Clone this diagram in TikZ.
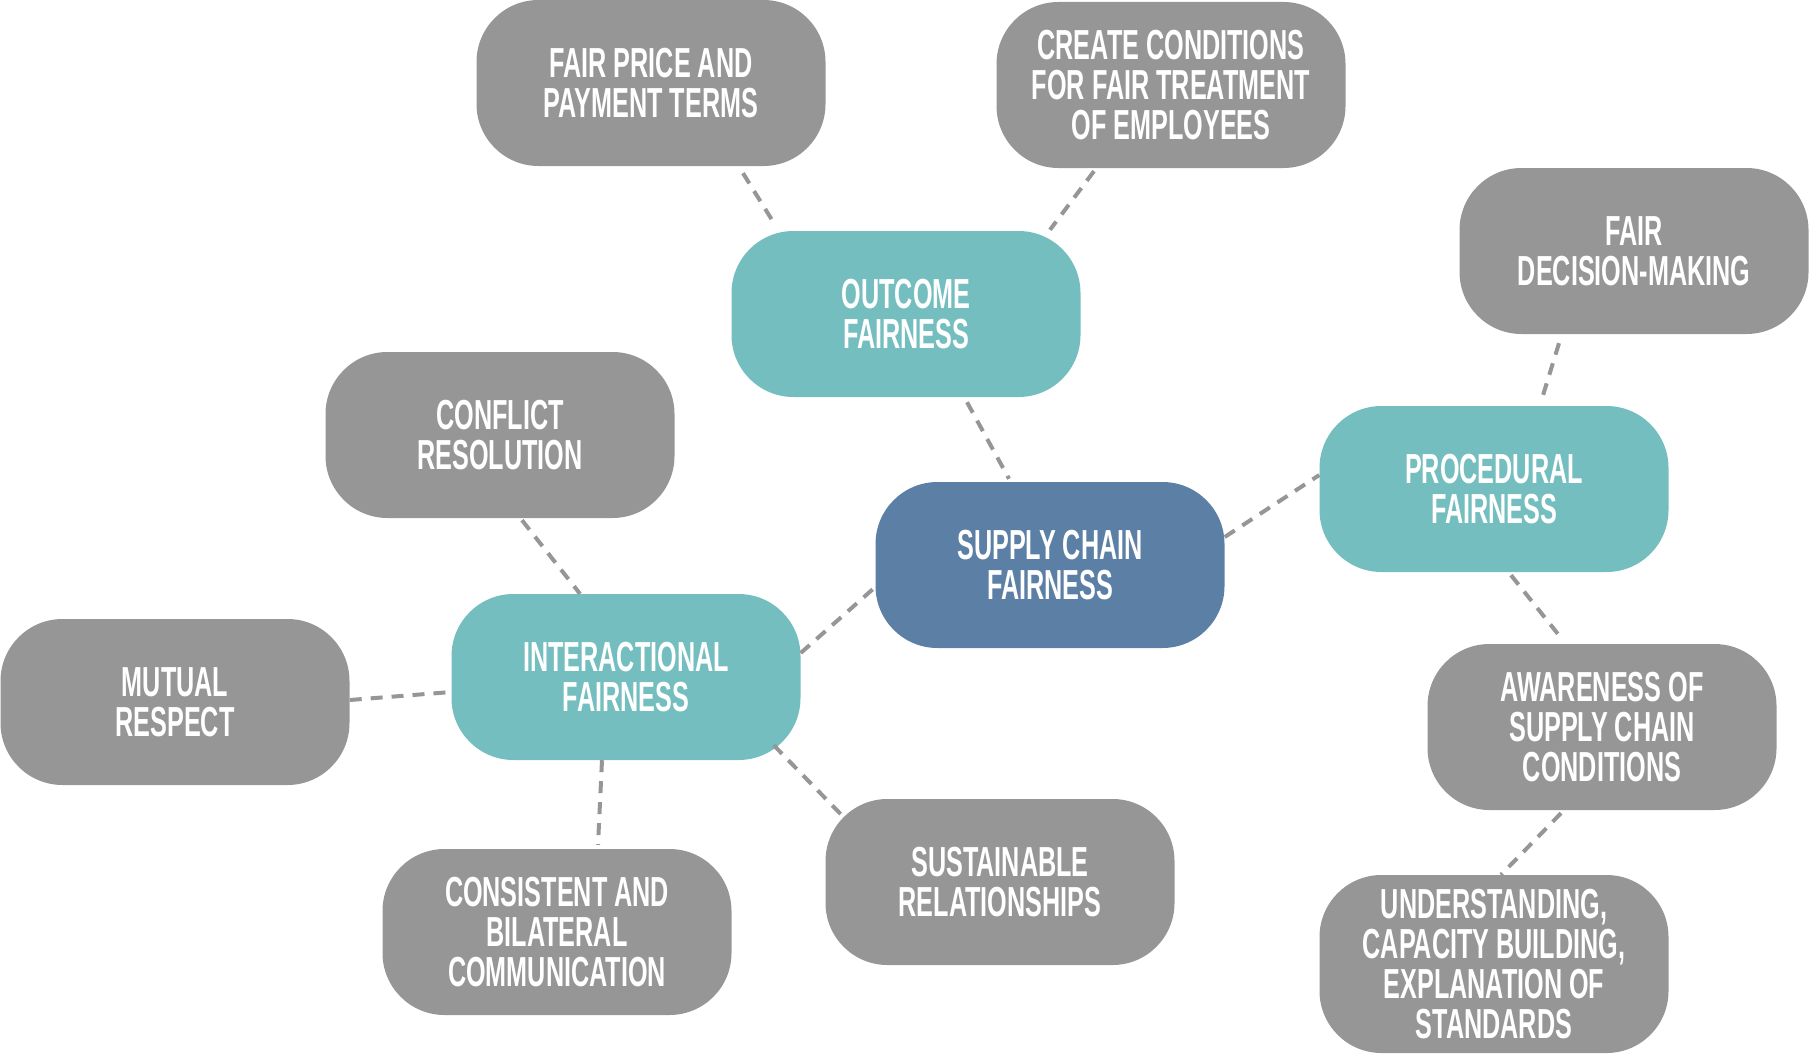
\documentclass[tikz,border=0pt]{standalone}
\usepackage{fontspec}
\newfontfamily\cond[FakeStretch=0.6]{Liberation Sans Bold}
\definecolor{boxgray}{RGB}{150,150,150}
\definecolor{boxteal}{RGB}{117,190,192}
\definecolor{boxblue}{RGB}{92,128,165}
\definecolor{linegray}{RGB}{150,150,150}
\tikzset{
  pill/.style={rectangle, rounded corners=62pt, minimum width=349pt, minimum height=166pt,
    inner sep=0pt, align=center, text=white, font=\cond\fontsize{42}{40}\selectfont,
    execute at begin node={\rule{0pt}{37pt}}},
  leaf/.style={pill, fill=boxgray},
  mid/.style={pill, fill=boxteal},
  hub/.style={pill, fill=boxblue},
  link/.style={draw=linegray, line width=4pt, dash pattern=on 12pt off 9pt}
}
\begin{document}
\begin{tikzpicture}[x=1pt,y=-1pt]
\useasboundingbox (0,0) rectangle (1811,1054);

\node[leaf] (fp) at (651,83) {FAIR PRICE AND\\PAYMENT TERMS};
\node[leaf] (cc) at (1171,85) {CREATE CONDITIONS\\FOR FAIR TREATMENT\\OF EMPLOYEES};
\node[mid]  (oc) at (906,314) {OUTCOME\\FAIRNESS};
\node[leaf] (dm) at (1634,251) {FAIR\\DECISION-MAKING};
\node[mid]  (pf) at (1494,489) {PROCEDURAL\\FAIRNESS};
\node[hub]  (sc) at (1050,565) {SUPPLY CHAIN\\FAIRNESS};
\node[leaf] (cr) at (500,435) {CONFLICT\\RESOLUTION};
\node[mid]  (ia) at (626,677) {INTERACTIONAL\\FAIRNESS};
\node[leaf] (mr) at (175,702) {MUTUAL\\RESPECT};
\node[leaf] (cb) at (557,932) {CONSISTENT AND\\BILATERAL\\COMMUNICATION};
\node[leaf] (sr) at (1000,882) {SUSTAINABLE\\RELATIONSHIPS};
\node[leaf] (aw) at (1602,727) {AWARENESS OF\\SUPPLY CHAIN\\CONDITIONS};
\node[leaf, minimum height=178pt] (un) at (1494,964) {UNDERSTANDING,\\CAPACITY BUILDING,\\EXPLANATION OF\\STANDARDS};

\draw[link] ([xshift=92pt,yshift=-7pt]fp.south) -- ([xshift=-131pt,yshift=6pt]oc.north);
\draw[link] ([xshift=-77pt,yshift=-3pt]cc.south) -- ([xshift=144pt,yshift=1pt]oc.north);
\draw[link] ([xshift=61pt,yshift=-5pt]oc.south) -- ([xshift=-41pt,yshift=3pt]sc.north);
\draw[link] ([xshift=-75pt,yshift=-9pt]dm.south) -- ([xshift=47pt,yshift=4pt]pf.north);
\draw[link] ([yshift=28pt]sc.east) -- ([yshift=14pt]pf.west);
\draw[link] ([xshift=17pt,yshift=-3pt]pf.south) -- ([xshift=-41pt,yshift=6pt]aw.north);
\draw[link] ([xshift=-41pt,yshift=-3pt]aw.south) -- ([xshift=7pt]un.north);
\draw[link] ([xshift=22pt,yshift=-2pt]cr.south) -- ([xshift=-46pt]ia.north);
\draw[link] ([yshift=24pt]ia.east) -- ([yshift=-22pt]sc.west);
\draw[link] ([yshift=2pt]mr.east) -- ([yshift=-15pt]ia.west);
\draw[link] ([xshift=-24pt]ia.south) -- ([xshift=41pt,yshift=4pt]cb.north);
\draw[link] ([xshift=-27pt,yshift=15pt]ia.south east) -- ([xshift=19pt,yshift=-19pt]sr.north west);
\end{tikzpicture}
\end{document}
